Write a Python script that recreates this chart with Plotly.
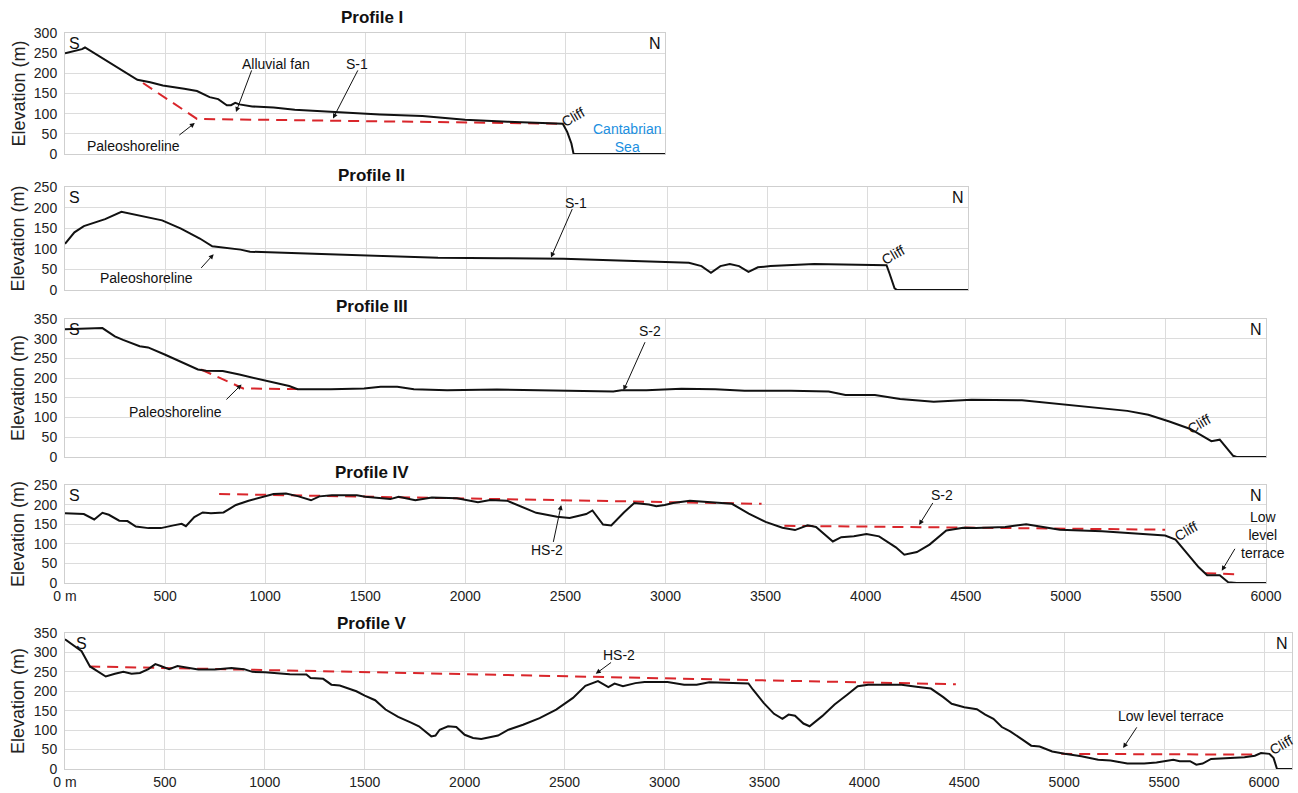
import plotly.graph_objects as go

# ---------------- data ----------------
# Profile I
p1_dist = [0, 85, 100, 191, 298, 362, 426, 489, 596, 660, 723, 766, 809, 830, 851, 872, 936, 1043, 1149, 1362,
           1574, 1787, 2000, 2213, 2426, 2489, 2511, 2532, 2543, 2560, 3000]
p1_elev = [250, 260, 264, 236, 205, 184, 178, 170, 162, 156, 141, 136, 121, 121, 127, 123, 118, 115, 110, 104,
           98, 94, 85, 80, 77, 75, 55, 26, 0, 0, 0]
p1_ref_dist = [390, 660, 2490]
p1_ref_elev = [176, 87, 75]

# Profile II
p2_dist = [0, 47, 94, 141, 200, 281, 390, 484, 578, 672, 734, 812, 875, 922, 984, 1234, 1547, 1859, 2172, 2484,
           2797, 3109, 3172, 3219, 3266, 3313, 3359, 3406, 3453, 3516, 3734, 4047, 4094, 4109, 4134, 4147, 4500]
p2_elev = [112, 140, 155, 162, 172, 190, 178, 169, 149, 125, 106, 101, 98, 93, 92, 87, 82, 78, 77, 76,
           71, 66, 58, 42, 58, 63, 58, 44, 55, 58, 63, 60, 60, 40, 4, 0, 0]

# Profile III
p3_dist = [0, 187, 249, 290, 373, 415, 498, 581, 664, 705, 788, 871, 954, 1037, 1120, 1162, 1328, 1494, 1577,
           1660, 1743, 1909, 2158, 2365, 2531, 2739, 2780, 2905, 3080, 3248, 3395, 3626, 3815, 3899, 4046,
           4172, 4340, 4529, 4781, 4971, 5139, 5307, 5412, 5517, 5622, 5685, 5727, 5769, 5800, 5836, 5853, 6000]
p3_elev = [324, 327, 306, 297, 281, 278, 260, 240, 222, 219, 218, 209, 199, 190, 180, 172, 172, 174, 178,
           178, 172, 169, 171, 169, 168, 166, 169, 169, 173, 172, 168, 168, 166, 157, 157,
           147, 140, 145, 144, 134, 124, 117, 107, 90, 71, 52, 40, 44, 25, 3, 0, 0]
p3_ref_dist = [680, 890, 1190]
p3_ref_elev = [222, 174, 172]

# Profile IV
p4_dist = [0, 94, 146, 187, 219, 271, 312, 354, 417, 479, 542, 583, 604, 646, 688, 729, 792, 854, 917, 979,
           1042, 1104, 1167, 1229, 1271, 1333, 1458, 1500, 1625, 1667, 1750, 1833, 1958, 2063, 2125, 2208,
           2292, 2354, 2458, 2521, 2604, 2635, 2688, 2729, 2792, 2844, 2917, 2954, 2996, 3038, 3122, 3206,
           3332, 3416, 3500, 3584, 3647, 3710, 3752, 3836, 3878, 3941, 4004, 4067, 4151, 4193, 4256, 4319,
           4403, 4487, 4550, 4697, 4802, 4886, 4970, 5181, 5391, 5496, 5548, 5601, 5664, 5706, 5769, 5811,
           5853, 6000]
p4_elev = [178, 176, 162, 179, 174, 159, 158, 144, 140, 140, 147, 151, 145, 168, 180, 178, 180, 199, 210, 218,
           227, 228, 221, 211, 221, 224, 224, 220, 214, 220, 211, 218, 216, 206, 212, 210,
           193, 179, 169, 166, 176, 185, 149, 147, 180, 204, 200, 196, 199, 204, 210, 207,
           202, 177, 156, 141, 135, 147, 143, 106, 117, 119, 125, 119, 91, 72, 79, 98,
           134, 141, 140, 143, 150, 143, 136, 132, 124, 121, 111, 78, 40, 20, 20, 2,
           0, 0]
p4_ref1_dist = [770, 3480]
p4_ref1_elev = [227, 202]
p4_ref2_dist = [3594, 5496]
p4_ref2_elev = [146, 136]
p4_ref3_dist = [5696, 5864]
p4_ref3_elev = [25, 22]

# Profile V
p5_dist = [0, 62, 83, 125, 167, 204, 250, 292, 333, 375, 417, 452, 479, 521, 563, 625, 667, 750, 833, 896, 938,
           1000, 1125, 1208, 1229, 1292, 1333, 1375, 1458, 1500, 1552, 1604, 1667, 1729, 1771, 1833, 1854,
           1875, 1917, 1958, 2000, 2042, 2083, 2167, 2219, 2292, 2375, 2458, 2542, 2604, 2667, 2719, 2750,
           2792, 2854, 2900, 3015, 3098, 3161, 3224, 3420, 3443, 3496, 3548, 3590, 3621, 3653, 3695, 3726,
           3789, 3851, 3914, 3967, 4019, 4186, 4270, 4333, 4395, 4437, 4500, 4563, 4605, 4646, 4688, 4730,
           4793, 4835, 4877, 4940, 5002, 5086, 5170, 5232, 5316, 5400, 5462, 5546, 5578, 5630, 5661, 5693,
           5735, 5818, 5902, 5954, 5985, 6027, 6048, 6065, 6140]
p5_elev = [334, 311, 303, 264, 249, 238, 245, 250, 245, 247, 257, 270, 265, 257, 265, 260, 256, 256, 260, 257, 250,
           249, 244, 243, 234, 232, 217, 215, 200, 189, 177, 153, 134, 120, 110, 84, 86,
           101, 110, 108, 88, 80, 77, 86, 101, 114, 131, 153, 183, 214, 226, 211, 220,
           213, 221, 224, 224, 217, 217, 223, 220, 204, 170, 142, 129, 140, 137, 117, 110,
           136, 166, 191, 213, 217, 217, 211, 207, 185, 168, 159, 154, 140, 129, 108, 97,
           75, 60, 58, 45, 39, 33, 24, 22, 14, 14, 17, 24, 20, 20, 11, 14,
           26, 28, 30, 34, 41, 39, 28, 0, 0]
p5_ref1_dist = [121, 4458]
p5_ref1_elev = [264, 218]
p5_ref2_dist = [4985, 5948]
p5_ref2_elev = [39, 37]

tick_dist = [0, 500, 1000, 1500, 2000, 2500, 3000, 3500, 4000, 4500, 5000, 5500, 6000]
tick_dist_text = ["0 m", "500", "1000", "1500", "2000", "2500", "3000", "3500", "4000", "4500", "5000", "5500", "6000"]

titles = ["Profile I", "Profile II", "Profile III", "Profile IV", "Profile V"]

# ---------------- layout helpers ----------------
W, H = 1298, 793
FONT = "Arial, Liberation Sans, sans-serif"
GRID = "#dcdcdc"

def dx(a, b):
    return [a / W, b / W]

def dy(top, bottom):
    return [1 - bottom / H, 1 - top / H]

# pixel boxes: (left, right, top, bottom), x range, y range
panels = [
    ((65, 665, 33, 154), [0, 3000], [0, 300], False),
    ((65, 968, 187, 290), [0, 4500], [0, 250], False),
    ((65, 1266, 319, 457), [0, 6000], [0, 350], False),
    ((65, 1266, 485, 583), [0, 6000], [0, 250], True),
    ((65, 1292, 633, 769), [0, 6140], [0, 350], True),
]
title_y = [17, 175, 306, 473, 623]
s_shift = [2, 2, 2, 2, 9]

fig = go.Figure()

series = [
    (p1_dist, p1_elev, [(p1_ref_dist, p1_ref_elev)]),
    (p2_dist, p2_elev, []),
    (p3_dist, p3_elev, [(p3_ref_dist, p3_ref_elev)]),
    (p4_dist, p4_elev, [(p4_ref1_dist, p4_ref1_elev), (p4_ref2_dist, p4_ref2_elev), (p4_ref3_dist, p4_ref3_elev)]),
    (p5_dist, p5_elev, [(p5_ref1_dist, p5_ref1_elev), (p5_ref2_dist, p5_ref2_elev)]),
]

layout = {}
annotations = []
for i, ((l, r, t, b), xr, yr, showx) in enumerate(panels):
    n = i + 1
    xa = "x" if n == 1 else f"x{n}"
    ya = "y" if n == 1 else f"y{n}"
    d, e, refs = series[i]
    for rd, re_ in refs:
        fig.add_trace(go.Scatter(x=rd, y=re_, mode="lines", xaxis=xa, yaxis=ya,
                                 line=dict(color="#d9262b", width=2, dash="11px,7px"),
                                 showlegend=False, hoverinfo="skip"))
    fig.add_trace(go.Scatter(x=d, y=e, mode="lines", xaxis=xa, yaxis=ya,
                             line=dict(color="#111111", width=2),
                             showlegend=False))
    layout["xaxis" if n == 1 else f"xaxis{n}"] = dict(
        domain=dx(l, r), anchor=ya, range=xr, showgrid=True, gridcolor=GRID, gridwidth=1,
        tickvals=tick_dist, ticktext=tick_dist_text, showticklabels=showx, automargin=False,
        ticks="", zeroline=False, showline=True, linecolor="#cfcfcf", mirror=True,
        tickfont=dict(family=FONT, size=14, color="#222"), fixedrange=True)
    layout["yaxis" if n == 1 else f"yaxis{n}"] = dict(
        domain=dy(t, b), anchor=xa, range=yr, dtick=50, showgrid=True, gridcolor=GRID,
        ticks="", zeroline=False, showline=True, linecolor="#cfcfcf", mirror=True, automargin=False,
        tickfont=dict(family=FONT, size=14, color="#222"), ticklabelstandoff=4, fixedrange=True)
    # panel title
    annotations.append(dict(text=f"<b>{titles[i]}</b>", x=372 / W, y=1 - title_y[i] / H, xref="paper", yref="paper",
                            xanchor="center", yanchor="middle",
                            showarrow=False, font=dict(family=FONT, size=17, color="#111")))
    # y axis title
    annotations.append(dict(text="Elevation (m)", x=18 / W, y=1 - (t + b) / 2 / H, xref="paper", yref="paper",
                            xanchor="center", yanchor="middle",
                            textangle=-90, showarrow=False, font=dict(family=FONT, size=18, color="#222")))
    # S / N
    annotations.append(dict(text="S", x=xr[0], y=yr[1], xref=xa, yref=ya, xanchor="left", yanchor="top",
                            xshift=s_shift[i], showarrow=False, font=dict(family=FONT, size=16, color="#111")))
    annotations.append(dict(text="N", x=xr[1], y=yr[1], xref=xa, yref=ya, xanchor="right", yanchor="top",
                            xshift=-2, showarrow=False, font=dict(family=FONT, size=16, color="#111")))

def label(text, x, y, n, size=14, color="#111", angle=0, align="center"):
    xa = "x" if n == 1 else f"x{n}"
    ya = "y" if n == 1 else f"y{n}"
    annotations.append(dict(text=text, x=x, y=y, xref=xa, yref=ya, showarrow=False, textangle=angle,
                            xanchor="center", yanchor="middle",
                            align=align, font=dict(family=FONT, size=size, color=color)))

def arrow(x, y, ax, ay, n):
    xa = "x" if n == 1 else f"x{n}"
    ya = "y" if n == 1 else f"y{n}"
    annotations.append(dict(text="", x=x, y=y, ax=ax, ay=ay, xref=xa, yref=ya, axref=xa, ayref=ya,
                            showarrow=True, arrowhead=2, arrowsize=1, arrowwidth=1, arrowcolor="#111",
                            standoff=0, startstandoff=0))

# Profile I
label("Alluvial fan", 1053, 224, 1)
arrow(855, 104, 936, 211, 1)
label("S-1", 1460, 224, 1)
arrow(1340, 88, 1468, 211, 1)
label("Paleoshoreline", 340, 20, 1)
arrow(649, 77, 564, 44, 1)
label("Cliff", 2540, 92, 1, angle=-30)
label("Cantabrian<br>Sea", 2810, 40, 1, color="#1b8fe0")

# Profile II
label("S-1", 2547, 210, 2)
arrow(2422, 79, 2531, 200, 2)
label("Paleoshoreline", 406, 28, 2)
arrow(741, 87, 672, 50, 2)
label("Cliff", 4125, 86, 2, angle=-30)

# Profile III
label("S-2", 2922, 320, 3)
arrow(2790, 169, 2901, 295, 3)
label("Paleoshoreline", 550, 113, 3)
arrow(882, 184, 799, 142, 3)
label("Cliff", 5664, 84, 3, angle=-30)

# Profile IV
label("HS-2", 2406, 84, 4)
arrow(2479, 199, 2438, 101, 4)
label("S-2", 4382, 224, 4)
arrow(4267, 148, 4340, 208, 4)
label("Cliff", 5601, 133, 4, angle=-30)
label("Low<br>level<br>terrace", 5985, 122, 4)
arrow(5779, 31, 5849, 91, 4)

# Profile V
label("HS-2", 2771, 294, 5)
arrow(2656, 245, 2740, 277, 5)
label("Low level terrace", 5535, 137, 5)
arrow(5295, 54, 5368, 111, 5)
label("Cliff", 6085, 63, 5, angle=-30)

fig.update_layout(**layout)
fig.update_layout(width=W, height=H, margin=dict(l=0, r=0, t=0, b=0), plot_bgcolor="white",
                  paper_bgcolor="white", annotations=annotations, showlegend=False,
                  font=dict(family=FONT))
fig.write_html("out.html", config={"displayModeBar": False},
               post_script="document.body.style.margin='0px';document.body.style.overflow='hidden';")
